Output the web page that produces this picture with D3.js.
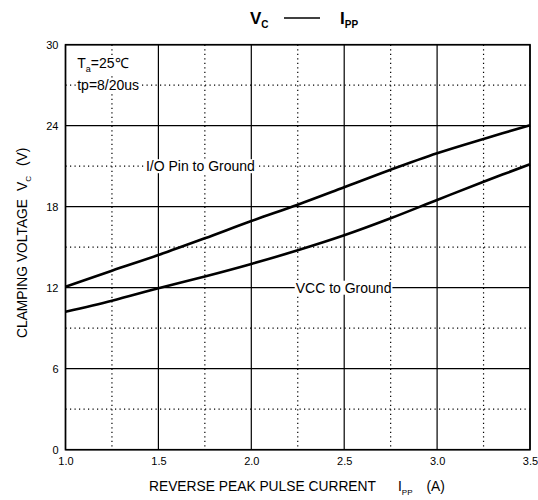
<!DOCTYPE html>
<html>
<head>
<meta charset="utf-8">
<script src="https://cdn.jsdelivr.net/npm/d3@7"></script>
<style>
  body { margin: 0; background: #fff; }
  svg text { font-family: "Liberation Sans", Arial, sans-serif; fill: #000; }
</style>
</head>
<body>
<div id="viz"></div>
<script>
// data
var ipp = [1.0, 1.25, 1.5, 1.75, 2.0, 2.25, 2.5, 2.75, 3.0, 3.25, 3.5];
var ioPin = [12.07, 13.26, 14.42, 15.66, 16.94, 18.15, 19.44, 20.74, 21.96, 23.02, 24.03];
var vccPin = [10.22, 11.04, 11.96, 12.83, 13.76, 14.77, 15.88, 17.14, 18.5, 19.85, 21.14];
var xTicks = [1.0, 1.5, 2.0, 2.5, 3.0, 3.5];
var xMinor = [1.25, 1.75, 2.25, 2.75, 3.25];
var yTicks = [0, 6, 12, 18, 24, 30];
var yMinor = [3, 9, 15, 21, 27];

var W = 538, H = 500;
var svg = d3.select('#viz').append('svg')
  .attr('width', W)
  .attr('height', H);

var x = d3.scaleLinear().domain([1.0, 3.5]).range([65.5, 530]);
var y = d3.scaleLinear().domain([0, 30]).range([449.7, 44.7]);

// dotted minor grid
svg.append('g').selectAll('line').data(xMinor).join('line')
  .attr('x1', d => x(d)).attr('x2', d => x(d))
  .attr('y1', y(30)).attr('y2', y(0))
  .style('stroke', '#000').style('stroke-width', 1.2)
  .style('stroke-dasharray', '1.2,3.3');
svg.append('g').selectAll('line').data(yMinor).join('line')
  .attr('x1', x(1)).attr('x2', x(3.5))
  .attr('y1', d => y(d)).attr('y2', d => y(d))
  .style('stroke', '#000').style('stroke-width', 1.2)
  .style('stroke-dasharray', '1.2,3.3');

// solid major grid
svg.append('g').selectAll('line').data(xTicks).join('line')
  .attr('x1', d => x(d)).attr('x2', d => x(d))
  .attr('y1', y(30)).attr('y2', y(0))
  .style('stroke', '#000').style('stroke-width', 1.2);
svg.append('g').selectAll('line').data(yTicks).join('line')
  .attr('x1', x(1)).attr('x2', x(3.5))
  .attr('y1', d => y(d)).attr('y2', d => y(d))
  .style('stroke', '#000').style('stroke-width', 1.2);

// frame
svg.append('rect')
  .attr('x', x(1)).attr('y', y(30))
  .attr('width', x(3.5) - x(1)).attr('height', y(0) - y(30))
  .style('fill', 'none').style('stroke', '#000').style('stroke-width', 1.6);

// tick labels
var xAxis = svg.append('g').attr('transform', `translate(0,${y(0)})`)
  .call(d3.axisBottom(x).tickValues(xTicks).tickSize(0).tickPadding(8).tickFormat(d3.format('.1f')));
xAxis.select('.domain').remove();
xAxis.selectAll('text').style('font-size', '11px').style('font-family', '"Liberation Sans", Arial, sans-serif');

var yAxis = svg.append('g').attr('transform', `translate(${x(1)},0)`)
  .call(d3.axisLeft(y).tickValues(yTicks).tickSize(0).tickPadding(7).tickFormat(d3.format('d')));
yAxis.select('.domain').remove();
yAxis.selectAll('text').style('font-size', '11px').style('font-family', '"Liberation Sans", Arial, sans-serif');

// curves
var line = d3.line()
  .x((d, i) => x(ipp[i]))
  .y(d => y(d))
  .curve(d3.curveCatmullRom.alpha(0.5));

svg.append('path').datum(ioPin).attr('d', line)
  .style('fill', 'none').style('stroke', '#000').style('stroke-width', 2.6);
svg.append('path').datum(vccPin).attr('d', line)
  .style('fill', 'none').style('stroke', '#000').style('stroke-width', 2.6);

// annotations with white backing
function label(px, py, build) {
  var g = svg.append('g');
  var t = g.append('text').attr('x', px).attr('y', py).style('font-size', '14px');
  build(t);
  var b = t.node().getBBox();
  g.insert('rect', 'text')
    .attr('x', b.x - 1).attr('y', b.y + 1)
    .attr('width', b.width + 2).attr('height', b.height - 2)
    .style('fill', '#fff');
  return t;
}

label(x(1.063), y(28.27), function (t) {
  t.append('tspan').text('T');
  t.append('tspan').attr('dy', 4).style('font-size', '9px').text('a');
  t.append('tspan').attr('dy', -4).text('=25\u2103');
});
label(x(1.063), y(27) + 5, function (t) { t.text('tp=8/20us'); });
label(x(1.433), y(21) + 5, function (t) { t.text('I/O Pin to Ground'); });
label(x(2.239), y(12) + 5, function (t) { t.text('VCC to Ground'); });

// title
var title = svg.append('text').attr('x', 250).attr('y', 24)
  .style('font-size', '17px').style('font-weight', 'bold');
title.append('tspan').text('V');
title.append('tspan').attr('dy', 4).style('font-size', '10px').text('C');
svg.append('line').attr('x1', 284).attr('x2', 320).attr('y1', 18).attr('y2', 18)
  .style('stroke', '#000').style('stroke-width', 1.5);
var title2 = svg.append('text').attr('x', 340).attr('y', 24)
  .style('font-size', '17px').style('font-weight', 'bold');
title2.append('tspan').text('I');
title2.append('tspan').attr('dy', 4).style('font-size', '10px').text('PP');

// x axis title
var xt = svg.append('text').attr('x', 149).attr('y', 491).style('font-size', '13.8px');
xt.append('tspan').text('REVERSE PEAK PULSE CURRENT');
xt.append('tspan').attr('dx', 22).text('I');
xt.append('tspan').attr('dy', 4).style('font-size', '8px').text('PP');
xt.append('tspan').attr('dy', -4).attr('dx', 14).text('(A)');

// y axis title
var yt = svg.append('text')
  .attr('transform', 'translate(27,338) rotate(-90)')
  .style('font-size', '13.8px');
yt.append('tspan').text('CLAMPING VOLTAGE');
yt.append('tspan').attr('dx', 8).text('V');
yt.append('tspan').attr('dy', 4).style('font-size', '8px').text('C');
yt.append('tspan').attr('dy', -4).attr('dx', 10).text('(V)');
</script>
</body>
</html>
